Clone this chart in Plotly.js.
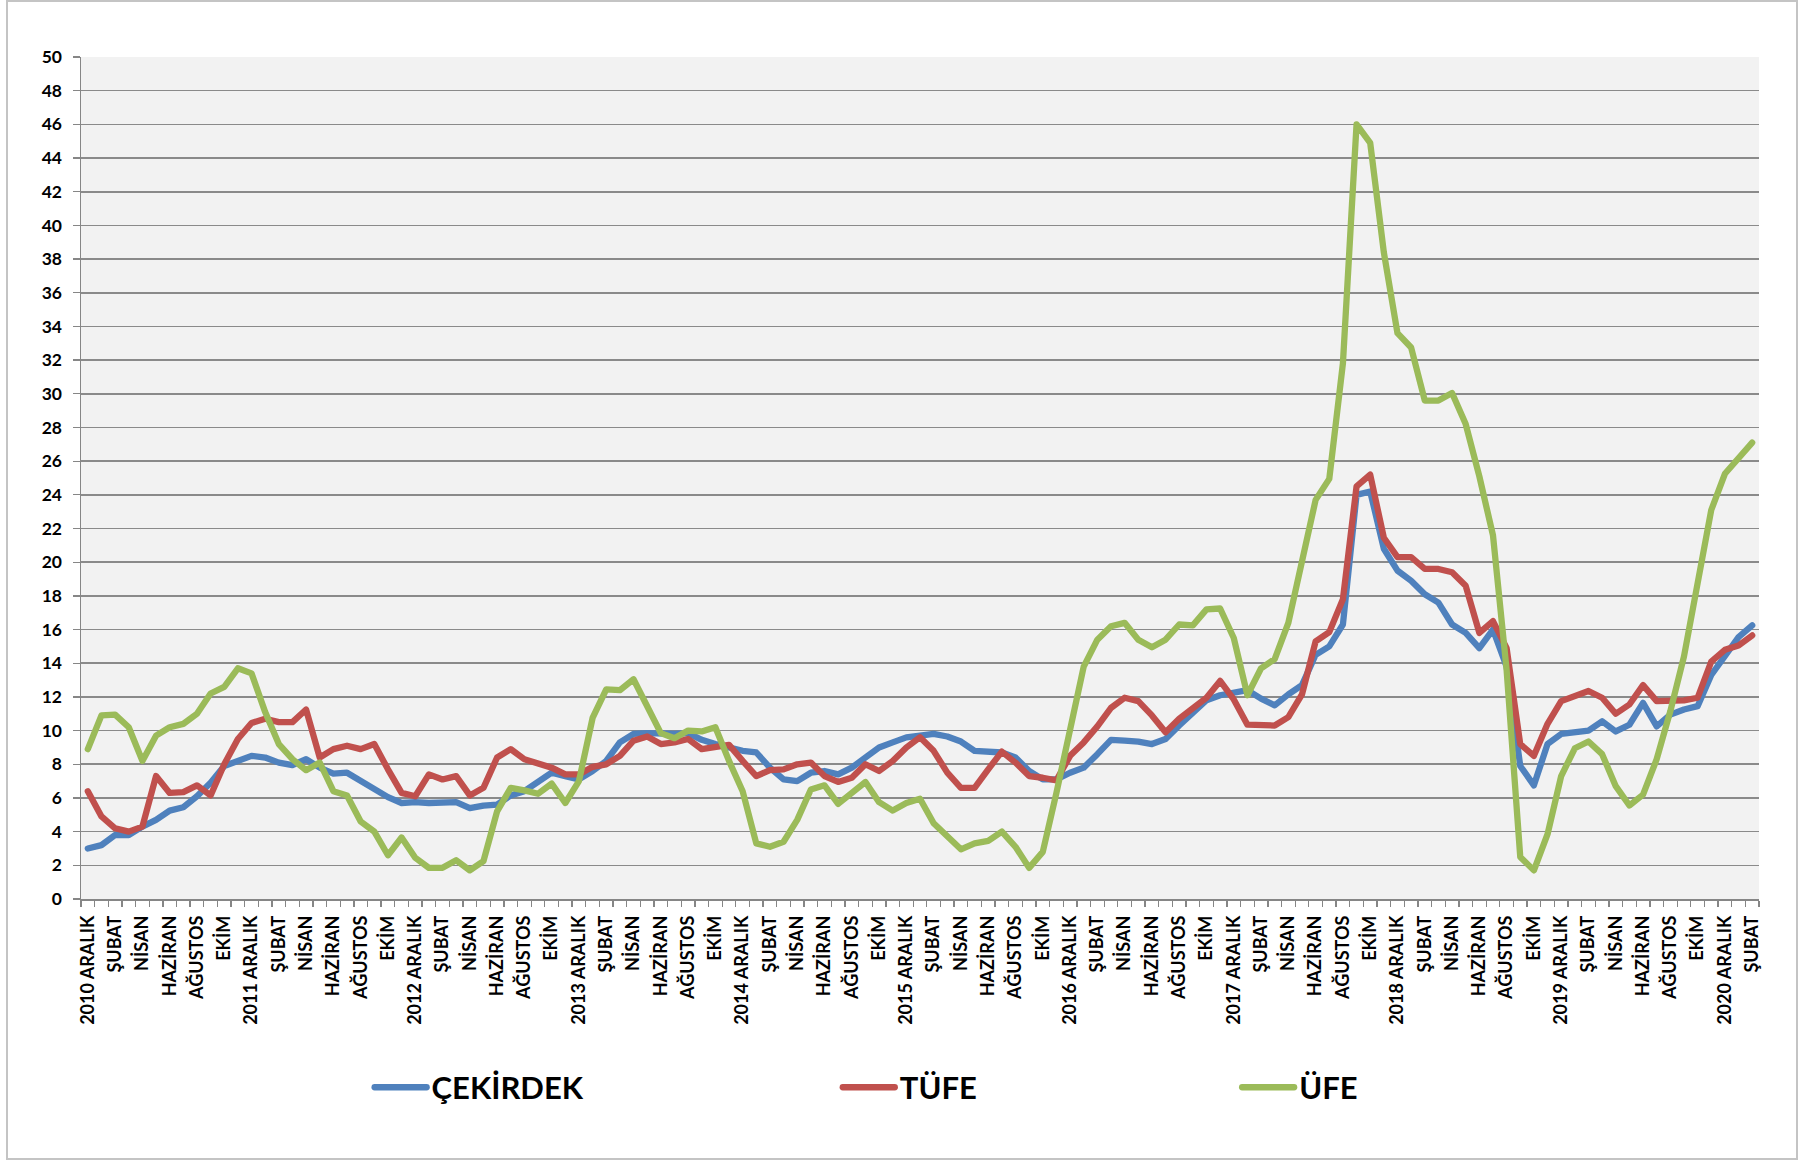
<!DOCTYPE html>
<html>
<head>
<meta charset="utf-8">
<script src="https://cdn.plot.ly/plotly-3.0.1.min.js"></script>
<style>
  html, body { margin: 0; padding: 0; background: #ffffff; }
  #wrap { position: relative; width: 1810px; height: 1163px; }
  #chart { position: absolute; left: 0; top: 0; width: 1810px; height: 1163px; }
  #frame { position: absolute; left: 6px; top: 0px; width: 1792px; height: 1160px;
           border: 2px solid #c4c4c4; box-sizing: border-box; pointer-events: none; }
  .scatterlayer .js-line, .legendlines path { stroke-linejoin: round; stroke-linecap: round; }
</style>
</head>
<body>
<div id="wrap">
  <div id="chart"></div>
  <div id="frame"></div>
</div>
<script>
// Month index 0 = 2010 ARALIK ... 122 = 2021 ŞUBAT
const tickLabels = [
  "2010 ARALIK","ŞUBAT","NİSAN","HAZİRAN","AĞUSTOS","EKİM",
  "2011 ARALIK","ŞUBAT","NİSAN","HAZİRAN","AĞUSTOS","EKİM",
  "2012 ARALIK","ŞUBAT","NİSAN","HAZİRAN","AĞUSTOS","EKİM",
  "2013 ARALIK","ŞUBAT","NİSAN","HAZİRAN","AĞUSTOS","EKİM",
  "2014 ARALIK","ŞUBAT","NİSAN","HAZİRAN","AĞUSTOS","EKİM",
  "2015 ARALIK","ŞUBAT","NİSAN","HAZİRAN","AĞUSTOS","EKİM",
  "2016 ARALIK","ŞUBAT","NİSAN","HAZİRAN","AĞUSTOS","EKİM",
  "2017 ARALIK","ŞUBAT","NİSAN","HAZİRAN","AĞUSTOS","EKİM",
  "2018 ARALIK","ŞUBAT","NİSAN","HAZİRAN","AĞUSTOS","EKİM",
  "2019 ARALIK","ŞUBAT","NİSAN","HAZİRAN","AĞUSTOS","EKİM",
  "2020 ARALIK","ŞUBAT"
];

const cekirdek = [
  3.0, 3.2, 3.8, 3.8, 4.3, 4.7, 5.25, 5.45, 6.1, 6.9, 7.9, 8.2,
  8.5, 8.4, 8.1, 7.95, 8.3, 7.8, 7.45, 7.5, 7.0, 6.5, 6.05, 5.7,
  5.75, 5.7, 5.75, 5.75, 5.4, 5.55, 5.6, 6.15, 6.4, 6.9, 7.5, 7.3,
  7.1, 7.6, 8.2, 9.3, 9.8, 9.85, 9.8, 9.8, 9.85, 9.45, 9.2, 9.0,
  8.8, 8.7, 7.8, 7.1, 7.0, 7.5, 7.6, 7.4, 7.8, 8.4, 9.0, 9.3,
  9.6, 9.7, 9.8, 9.65, 9.35, 8.8, 8.75, 8.7, 8.4, 7.6, 7.1, 7.1,
  7.5, 7.8, 8.6, 9.45, 9.4, 9.35, 9.2, 9.5, 10.3, 11.1, 11.8, 12.1,
  12.25, 12.4, 11.9, 11.5, 12.15, 12.7, 14.5, 15.0, 16.3, 24.0, 24.2, 20.8,
  19.5, 18.9, 18.1, 17.6, 16.3, 15.8, 14.9, 16.0, 13.8, 7.9, 6.75, 9.2,
  9.8, 9.9, 10.0, 10.55, 9.95, 10.35, 11.65, 10.25, 10.95, 11.25, 11.45, 13.3,
  14.4, 15.55, 16.25
];

const tufe = [
  6.4, 4.9, 4.2, 4.0, 4.3, 7.3, 6.3, 6.35, 6.75, 6.15, 8.0, 9.5,
  10.45, 10.7, 10.5, 10.5, 11.25, 8.4, 8.9, 9.1, 8.9, 9.2, 7.7, 6.3,
  6.1, 7.4, 7.1, 7.3, 6.15, 6.6, 8.4, 8.9, 8.3, 8.0, 7.8, 7.4,
  7.4, 7.85, 8.0, 8.5, 9.4, 9.65, 9.2, 9.3, 9.5, 8.9, 9.0, 9.15,
  8.2, 7.3, 7.65, 7.7, 8.0, 8.1, 7.3, 6.95, 7.2, 8.0, 7.6, 8.2,
  9.0, 9.6, 8.8, 7.5, 6.6, 6.6, 7.7, 8.75, 8.1, 7.3, 7.2, 7.05,
  8.5, 9.3, 10.25, 11.35, 11.95, 11.75, 10.9, 9.9, 10.7, 11.3, 11.95, 12.95,
  11.85, 10.35, 10.3, 10.3, 10.8, 12.15, 15.3, 15.85, 17.8, 24.5, 25.2, 21.45,
  20.3, 20.3, 19.6, 19.6, 19.4, 18.6, 15.8, 16.5, 14.9, 9.2, 8.5, 10.4,
  11.75, 12.1, 12.35, 11.95, 11.0, 11.55, 12.7, 11.75, 11.75, 11.8, 11.95, 14.1,
  14.8, 15.05, 15.65
];

const ufe = [
  8.9, 10.9, 10.95, 10.2, 8.2, 9.7, 10.2, 10.4, 11.0, 12.2, 12.6, 13.7,
  13.4, 11.1, 9.2, 8.3, 7.65, 8.1, 6.4, 6.15, 4.6, 4.0, 2.6, 3.65,
  2.45, 1.85, 1.85, 2.3, 1.7, 2.25, 5.2, 6.6, 6.45, 6.25, 6.85, 5.7,
  7.0, 10.75, 12.45, 12.4, 13.05, 11.45, 9.85, 9.55, 10.0, 9.95, 10.2, 8.2,
  6.4, 3.3, 3.1, 3.4, 4.7, 6.5, 6.75, 5.65, 6.25, 6.95, 5.75, 5.25,
  5.7, 5.95, 4.5, 3.75, 2.95, 3.3, 3.45, 4.0, 3.1, 1.85, 2.8, 6.3,
  10.05, 13.8, 15.4, 16.2, 16.4, 15.4, 14.95, 15.4, 16.3, 16.25, 17.2, 17.25,
  15.5, 12.1, 13.7, 14.25, 16.4, 20.2, 23.7, 24.95, 31.8, 46.0, 44.9, 38.4,
  33.6, 32.75, 29.6, 29.6, 30.05, 28.2, 25.1, 21.6, 13.6, 2.5, 1.7, 3.85,
  7.3, 8.95, 9.35, 8.6, 6.7, 5.55, 6.2, 8.3, 11.15, 14.4, 18.6, 23.1,
  25.25, 26.2, 27.1
];

const seriesNames = ["ÇEKİRDEK", "TÜFE", "ÜFE"];
const seriesColors = ["#4F81BD", "#C0504D", "#9BBB59"];

const xIdx = cekirdek.map((_, i) => i);
const tickVals = tickLabels.map((_, i) => i * 2);

const FONT = "Lato, 'Open Sans', sans-serif";
const lineW = 6.3;

const data = [cekirdek, tufe, ufe].map((ys, k) => ({
  type: "scatter",
  mode: "lines",
  x: xIdx,
  y: ys,
  name: seriesNames[k],
  line: { color: seriesColors[k], width: lineW },
  legend: k === 0 ? "legend" : (k === 1 ? "legend2" : "legend3"),
  hoverinfo: "skip"
}));

const legendCommon = {
  orientation: "h",
  xanchor: "left",
  yanchor: "middle",
  y: -0.224,
  bgcolor: "rgba(0,0,0,0)",
  itemwidth: 52,
  font: { family: FONT, size: 31, color: "#000000", weight: "bold" }
};

const layout = {
  width: 1810,
  height: 1163,
  margin: { l: 81, r: 51, t: 57, b: 264 },
  paper_bgcolor: "rgba(0,0,0,0)",
  plot_bgcolor: "#F2F2F2",
  showlegend: true,
  legend: Object.assign({}, legendCommon, { x: 0.172 }),
  legend2: Object.assign({}, legendCommon, { x: 0.451 }),
  legend3: Object.assign({}, legendCommon, { x: 0.689 }),
  xaxis: {
    range: [-0.5, 122.5],
    tickmode: "array",
    tickvals: tickVals,
    ticktext: tickLabels,
    tickangle: -90,
    ticks: "",
    ticklabelstandoff: 8,
    showgrid: false,
    zeroline: false,
    showline: true,
    linecolor: "#868686",
    linewidth: 1.5,
    tickfont: { family: FONT, size: 18, color: "#000000", weight: "bold" },
    minor: {
      tickmode: "linear",
      tick0: -0.5,
      dtick: 1,
      ticks: "outside",
      ticklen: 6,
      tickwidth: 1.3,
      tickcolor: "#868686",
      showgrid: false
    },
    fixedrange: true
  },
  yaxis: {
    range: [0, 50],
    dtick: 2,
    tick0: 0,
    ticks: "outside",
    ticklen: 7,
    tickwidth: 1.3,
    tickcolor: "#868686",
    ticklabelstandoff: 7,
    showgrid: true,
    gridcolor: "#8A8A8A",
    gridwidth: 1.6,
    zeroline: false,
    showline: true,
    linecolor: "#868686",
    linewidth: 1.5,
    tickfont: { family: FONT, size: 17.5, color: "#000000", weight: "bold" },
    fixedrange: true
  }
};

Plotly.newPlot("chart", data, layout, { staticPlot: true, displayModeBar: false });
</script>
</body>
</html>
